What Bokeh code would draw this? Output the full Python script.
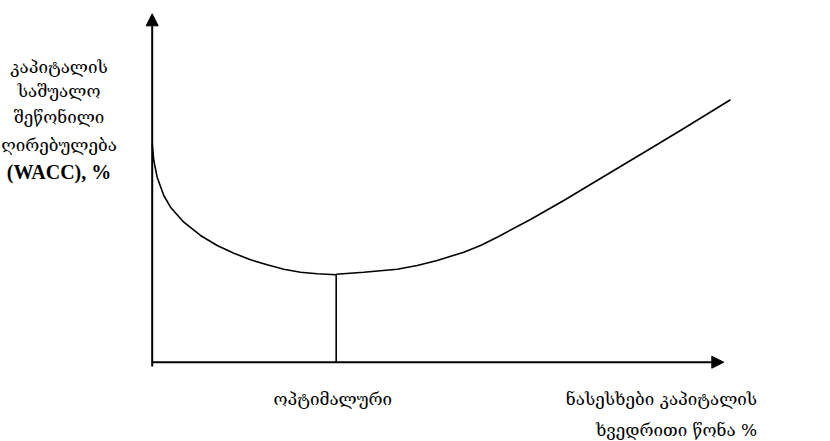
from bokeh.plotting import figure
from bokeh.models import Range1d, Label, Arrow, NormalHead
from bokeh.embed import file_html
from bokeh.resources import INLINE

# ---- data (debt share %, WACC %) ----
left_x = [0.00, 0.28, 0.87, 2.03, 3.20, 5.53, 8.45, 11.37, 14.28, 17.20, 20.12, 23.02, 25.95, 28.87, 32.19]
left_y = [62.69, 57.89, 53.10, 47.85, 44.49, 40.18, 36.37, 33.50, 31.29, 29.39, 27.96, 26.69, 25.83, 25.37, 25.11]
right_x = [32.19, 37.02, 42.86, 46.36, 49.86, 54.51, 57.44, 60.36, 66.18, 72.01, 76.38, 80.76, 86.60, 92.42, 101.17]
right_y = [25.26, 25.83, 26.69, 27.76, 29.19, 31.57, 33.50, 35.88, 40.96, 46.41, 50.72, 55.02, 60.76, 66.50, 75.32]
optimum_x = 32.19
optimum_y = 25.11
axis_max = 100

y_title_lines = ["კაპიტალის", "საშუალო", "შეწონილი", "ღირებულება", "(WACC), %"]
x_title_lines = ["ნასესხები კაპიტალის", "ხვედრითი წონა %"]
optimum_label = "ოპტიმალური"

GEO_FONT = "DejaVu Serif"
GEO_SIZE = "17px"

p = figure(width=830, height=441, output_backend="svg", toolbar_location=None,
           x_range=Range1d(-26.54, 118.67), y_range=Range1d(-22.76, 103.82),
           x_axis_type=None, y_axis_type=None, min_border=0)
p.grid.visible = False
p.outline_line_color = None
p.background_fill_color = "white"
p.border_fill_color = "white"

# axes with arrowheads
p.add_layout(Arrow(x_start=0, y_start=-1.2, x_end=0, y_end=axis_max,
                   line_width=2, line_color="black",
                   end=NormalHead(size=12, fill_color="black", line_color="black", line_width=1)))
p.add_layout(Arrow(x_start=0, y_start=0, x_end=axis_max, y_end=0,
                   line_width=2, line_color="black",
                   end=NormalHead(size=12, fill_color="black", line_color="black", line_width=1)))

# WACC curve
p.line(left_x, left_y, line_color="black", line_width=1.6)
p.line(right_x, right_y, line_color="black", line_width=1.6)
# optimum vertical line
p.segment(x0=[optimum_x], y0=[0], x1=[optimum_x], y1=[optimum_y], line_color="black", line_width=1.6)

# y title
y_base = [84.67, 77.98, 70.32, 62.40, 54.53]
for i, t in enumerate(y_title_lines):
    bold = t.startswith("(")
    p.add_layout(Label(x=-16.3, y=y_base[i], text=t, text_align="center",
                       text_baseline="alphabetic",
                       text_font="Liberation Serif" if bold else GEO_FONT,
                       text_font_size="20px" if bold else GEO_SIZE,
                       text_font_style="bold" if bold else "normal",
                       text_color="black"))

# x labels
p.add_layout(Label(x=31.6, y=-10.5, text=optimum_label, text_align="center",
                   text_baseline="alphabetic", text_font=GEO_FONT,
                   text_font_size=GEO_SIZE, text_color="black"))
p.add_layout(Label(x=105.84, y=-10.5, text=x_title_lines[0], text_align="right",
                   text_baseline="alphabetic", text_font=GEO_FONT,
                   text_font_size=GEO_SIZE, text_color="black"))
p.add_layout(Label(x=105.84, y=-19.4, text=x_title_lines[1], text_align="right",
                   text_baseline="alphabetic", text_font=GEO_FONT,
                   text_font_size=GEO_SIZE, text_color="black"))

open("out.html", "w").write(file_html(p, INLINE))
